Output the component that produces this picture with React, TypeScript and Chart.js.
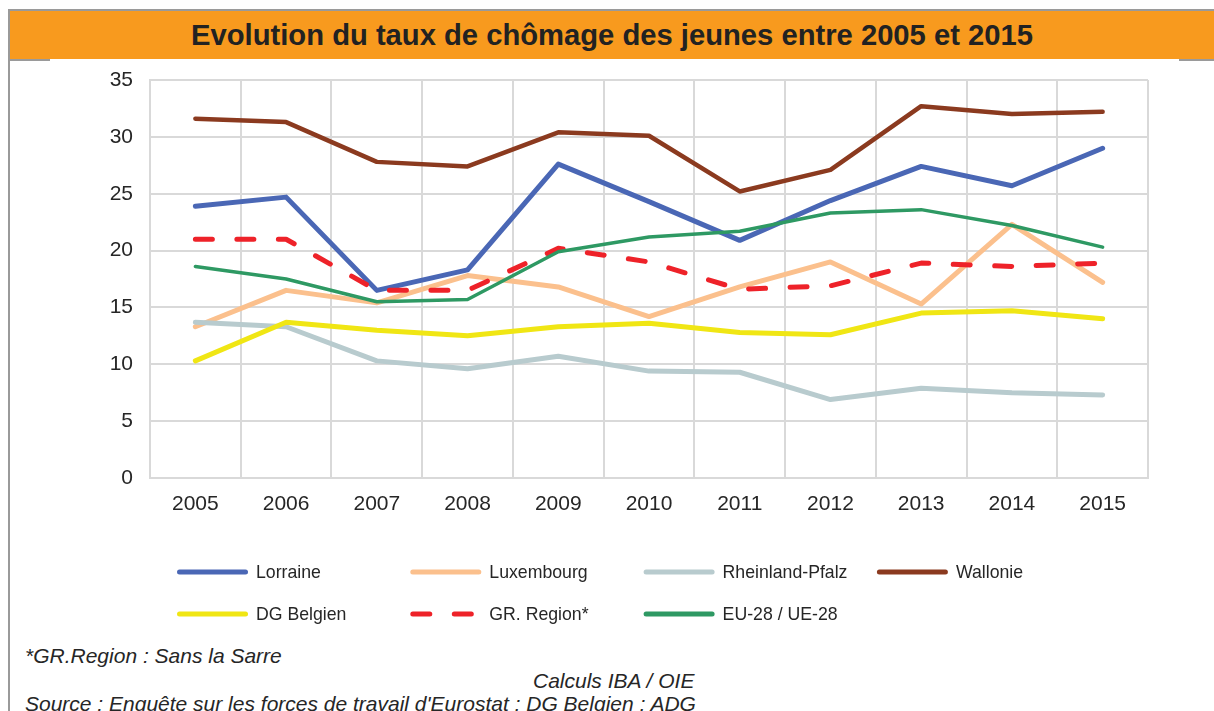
import { useEffect, useRef } from "react";
import { Chart, registerables } from "chart.js";

Chart.register(...registerables);

const years = ["2005", "2006", "2007", "2008", "2009", "2010", "2011", "2012", "2013", "2014", "2015"];
const lorraine = [23.9, 24.7, 16.5, 18.3, 27.6, 24.3, 20.9, 24.4, 27.4, 25.7, 29.0];
const luxembourg = [13.3, 16.5, 15.4, 17.8, 16.8, 14.2, 16.8, 19.0, 15.3, 22.3, 17.2];
const rheinlandPfalz = [13.7, 13.3, 10.3, 9.6, 10.7, 9.4, 9.3, 6.9, 7.9, 7.5, 7.3];
const wallonie = [31.6, 31.3, 27.8, 27.4, 30.4, 30.1, 25.2, 27.1, 32.7, 32.0, 32.2];
const dgBelgien = [10.3, 13.7, 13.0, 12.5, 13.3, 13.6, 12.8, 12.6, 14.5, 14.7, 14.0];
const grRegion = [21.0, 21.0, 16.5, 16.5, 20.2, 19.0, 16.6, 16.9, 18.9, 18.6, 18.9];
const eu28 = [18.6, 17.5, 15.5, 15.7, 19.9, 21.2, 21.7, 23.3, 23.6, 22.2, 20.3];

const seriesNames = ["Lorraine", "Luxembourg", "Rheinland-Pfalz", "Wallonie", "DG Belgien", "GR. Region*", "EU-28 / UE-28"];
const seriesColors = ["#4A67B5", "#FBC08D", "#B8CBCE", "#8B3A1F", "#F0E614", "#EE2229", "#2E9963"];
const seriesWidths = [5, 5, 5, 4.5, 5, 5, 3.5];
const yMin = 0;
const yMax = 35;
const yStep = 5;

const title = "Evolution du taux de chômage des jeunes entre 2005 et 2015";
const footnote = "*GR.Region : Sans la Sarre";
const calculs = "Calculs IBA / OIE";
const source = "Source : Enquête sur les forces de travail d'Eurostat ; DG Belgien ; ADG";

const FONT = "'Liberation Sans', Arial, Helvetica, sans-serif";

const legendPlugin = {
  id: "gridLegend",
  afterDraw(chart: any) {
    const ctx = chart.ctx as CanvasRenderingContext2D;
    chart.data.datasets.forEach((ds: any, i: number) => {
      const col = i % 4;
      const row = Math.floor(i / 4);
      const x0 = 167 + col * 233.3;
      const y = 511 + row * 42;
      ctx.save();
      ctx.strokeStyle = ds.borderColor;
      ctx.lineWidth = 5;
      ctx.lineCap = "round";
      ctx.setLineDash(ds.borderDash || []);
      ctx.beginPath();
      ctx.moveTo(x0 + 2.5, y);
      ctx.lineTo(x0 + 68.5, y);
      ctx.stroke();
      ctx.setLineDash([]);
      ctx.fillStyle = "#262626";
      ctx.font = `17.7px ${FONT}`;
      ctx.textBaseline = "middle";
      ctx.textAlign = "left";
      ctx.fillText(ds.label, x0 + 79, y + 1);
      ctx.restore();
    });
  },
};

const footStyle = {
  position: "absolute" as const,
  fontStyle: "italic" as const,
  fontSize: 21,
  lineHeight: "24px",
  whiteSpace: "nowrap" as const,
};

export default function App() {
  const canvasRef = useRef<HTMLCanvasElement | null>(null);

  useEffect(() => {
    if (!canvasRef.current) return;
    const values = [lorraine, luxembourg, rheinlandPfalz, wallonie, dgBelgien, grRegion, eu28];
    const chart = new Chart(canvasRef.current, {
      type: "line",
      data: {
        labels: years,
        datasets: values.map((v, i) => ({
          label: seriesNames[i],
          data: v,
          borderColor: seriesColors[i],
          backgroundColor: seriesColors[i],
          borderWidth: seriesWidths[i],
          borderDash: i === 5 ? [17, 24.5] : [],
          borderCapStyle: "round" as const,
          borderJoinStyle: "round" as const,
          pointRadius: 0,
          pointHoverRadius: 0,
          tension: 0,
          fill: false,
          order: values.length - i,
        })),
      },
      options: {
        responsive: false,
        animation: false,
        events: [],
        layout: { padding: { left: 0, top: 19, right: 66, bottom: 100 } },
        plugins: {
          legend: { display: false },
          tooltip: { enabled: false },
          title: { display: false },
        },
        scales: {
          x: {
            type: "category",
            offset: true,
            grid: { offset: true, color: "#D9D9D9", lineWidth: 2, drawTicks: false },
            border: { display: true, color: "#D9D9D9", width: 2 },
            ticks: { color: "#262626", font: { family: FONT, size: 21 }, padding: 14, maxRotation: 0, autoSkip: false },
            afterFit(scale: any) {
              scale.height = 63;
            },
          },
          y: {
            min: yMin,
            max: yMax,
            grid: { color: "#D9D9D9", lineWidth: 2, drawTicks: false },
            border: { display: true, color: "#D9D9D9", width: 2 },
            ticks: { stepSize: yStep, color: "#262626", font: { family: FONT, size: 21 }, padding: 17 },
            afterFit(scale: any) {
              scale.width = 140;
              scale.paddingTop = 0;
              scale.paddingBottom = 0;
            },
          },
        },
      },
      plugins: [legendPlugin],
    });
    return () => chart.destroy();
  }, []);

  return (
    <div style={{ position: "relative", width: 1214, height: 711, overflow: "hidden", fontFamily: FONT, color: "#262626" }}>
      <style>{"html,body{margin:0;padding:0;overflow:hidden;}"}</style>
      <div style={{ position: "absolute", left: 8, top: 9, width: 1206, height: 2, background: "#9A9A9A" }} />
      <div style={{ position: "absolute", left: 8, top: 9, width: 2, height: 702, background: "#9A9A9A" }} />
      <div style={{ position: "absolute", left: 10, top: 11, width: 1204, height: 48, background: "#F89A1E" }} />
      <div style={{ position: "absolute", left: 8, top: 59, width: 42, height: 2, background: "#9A9A9A" }} />
      <div style={{ position: "absolute", left: 1179, top: 59, width: 35, height: 2, background: "#9A9A9A" }} />
      <div
        style={{
          position: "absolute",
          left: 10,
          top: 11,
          width: 1204,
          height: 48,
          lineHeight: "48px",
          textAlign: "center",
          fontWeight: "bold",
          fontSize: 29.2,
          color: "#222",
          whiteSpace: "nowrap",
        }}
      >
        {title}
      </div>
      <canvas ref={canvasRef} width={1204} height={580} style={{ position: "absolute", left: 10, top: 61, width: 1204, height: 580 }} />
      <div style={{ ...footStyle, left: 25, top: 644 }}>{footnote}</div>
      <div style={{ ...footStyle, left: 533, top: 669 }}>{calculs}</div>
      <div style={{ ...footStyle, left: 25, top: 692 }}>{source}</div>
    </div>
  );
}
